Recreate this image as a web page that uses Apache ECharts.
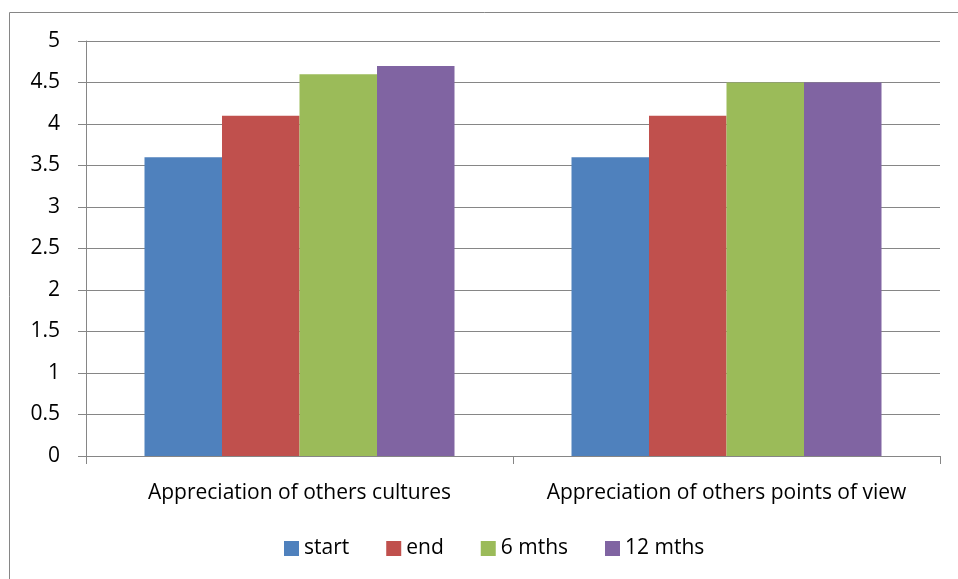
<!DOCTYPE html>
<html>
<head>
<meta charset="utf-8">
<script src="https://cdn.jsdelivr.net/npm/echarts@6/dist/echarts.min.js"></script>
<style>
  html, body { margin: 0; padding: 0; background: #fff; }
  #main { width: 958px; height: 579px; }
</style>
</head>
<body>
<div id="main"></div>
<script>
const categories = ['Appreciation of others cultures', 'Appreciation of others points of view'];
const seriesNames = ['start', 'end', '6 mths', '12 mths'];
const startValues = [3.6, 3.6];
const endValues = [4.1, 4.1];
const sixMonthValues = [4.6, 4.5];
const twelveMonthValues = [4.7, 4.5];
const yTicks = [0, 0.5, 1, 1.5, 2, 2.5, 3, 3.5, 4, 4.5, 5];

const colors = ['#4f81bd', '#c0504d', '#9bbb59', '#8064a2'];
const allValues = [startValues, endValues, sixMonthValues, twelveMonthValues];

let chart = echarts.init(document.getElementById('main'), null, { renderer: 'canvas' });

let option = {
  animation: false,
  color: colors,
  textStyle: { fontFamily: 'Open Sans', color: '#000' },
  graphic: [{
    type: 'rect',
    shape: { x: 9.5, y: 12.5, width: 1200, height: 1200 },
    style: { fill: 'none', stroke: '#868686', lineWidth: 1 },
    silent: true
  }],
  grid: { left: 86, right: 18, top: 41, bottom: 123, containLabel: false },
  legend: {
    bottom: 15,
    left: 279,
    itemWidth: 15,
    itemHeight: 15,
    itemGap: 37,
    icon: 'rect',
    textStyle: { fontSize: 21, fontFamily: 'Open Sans', color: '#000' },
    data: seriesNames
  },
  xAxis: {
    type: 'category',
    data: categories,
    axisLine: { lineStyle: { color: '#868686', width: 1 } },
    axisTick: { show: true, length: 8, lineStyle: { color: '#868686' } },
    axisLabel: { fontSize: 21, color: '#000', margin: 27, interval: 0, hideOverlap: false, fontFamily: 'Open Sans' }
  },
  yAxis: {
    type: 'value',
    min: 0,
    max: 5,
    interval: 0.5,
    axisLine: { show: true, lineStyle: { color: '#868686', width: 1 } },
    axisTick: { show: true, length: 8, lineStyle: { color: '#868686' } },
    splitLine: { lineStyle: { color: '#868686', width: 1 } },
    axisLabel: {
      fontSize: 21, color: '#000', margin: 26, fontFamily: 'Open Sans',
      formatter: v => yTicks.includes(v) ? String(v) : ''
    }
  },
  series: seriesNames.map((name, i) => ({
    name: name,
    type: 'bar',
    data: allValues[i],
    barGap: '0%',
    barCategoryGap: '27.4%'
  }))
};

chart.setOption(option);
</script>
</body>
</html>
